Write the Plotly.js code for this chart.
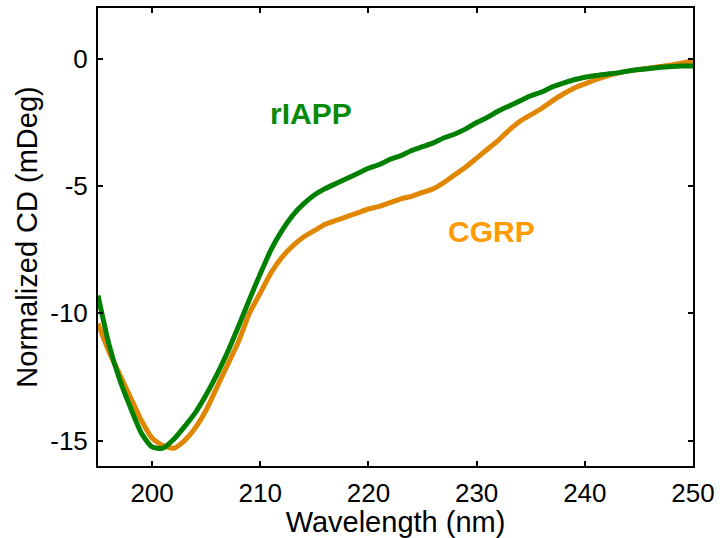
<!DOCTYPE html>
<html>
<head>
<meta charset="utf-8">
<script src="https://cdn.plot.ly/plotly-3.0.1.min.js"></script>
<style>html,body{margin:0;padding:0;background:#fff;}#chart{width:720px;height:538px;}</style>
</head>
<body>
<div id="chart"></div>
<script>
const wavelength = [195,196,197,198,199,200,201,202,203,204,205,206,207,208,209,210,211,212,213,214,215,216,217,218,219,220,221,222,223,224,225,226,227,228,229,230,231,232,233,234,235,236,237,238,239,240,241,242,243,244,245,246,247,248,249,250];
const rIAPP = [-9.3,-11.2,-12.6,-13.7,-14.7,-15.25,-15.3,-14.95,-14.45,-13.9,-13.2,-12.4,-11.5,-10.5,-9.45,-8.45,-7.5,-6.75,-6.15,-5.7,-5.35,-5.1,-4.9,-4.7,-4.5,-4.3,-4.15,-3.95,-3.8,-3.6,-3.45,-3.3,-3.1,-2.95,-2.75,-2.5,-2.3,-2.05,-1.85,-1.65,-1.45,-1.3,-1.1,-0.95,-0.82,-0.72,-0.65,-0.6,-0.55,-0.48,-0.42,-0.38,-0.33,-0.3,-0.28,-0.28];
const CGRP = [-10.4,-11.5,-12.4,-13.3,-14.2,-14.9,-15.2,-15.3,-15.0,-14.5,-13.8,-12.9,-12.0,-11.1,-10.0,-9.2,-8.4,-7.8,-7.35,-7.0,-6.75,-6.5,-6.35,-6.2,-6.05,-5.9,-5.8,-5.65,-5.5,-5.4,-5.25,-5.1,-4.85,-4.55,-4.25,-3.9,-3.55,-3.2,-2.8,-2.45,-2.2,-1.95,-1.65,-1.38,-1.15,-0.98,-0.82,-0.68,-0.56,-0.48,-0.42,-0.36,-0.3,-0.24,-0.16,-0.08];
const xTicks = [200,210,220,230,240,250];
const yTicks = [0,-5,-10,-15];
const labels = [
  {text:'rIAPP', x:214.7, y:-2.15, color:'#078a07'},
  {text:'CGRP', x:231.4, y:-6.8, color:'#ff9a00'}
];

const traces = [
  {x: wavelength, y: CGRP, mode:'lines', line:{color:'#e08600', width:5, shape:'spline', smoothing:0.6}, name:'CGRP'},
  {x: wavelength, y: rIAPP, mode:'lines', line:{color:'#008000', width:5, shape:'spline', smoothing:0.6}, name:'rIAPP'}
];

const FONT = 'Liberation Sans, Arial, sans-serif';
const axisCommon = {
  showgrid:false, zeroline:false, showline:true, linecolor:'#000', linewidth:2,
  mirror:'ticks', ticks:'inside', ticklen:5, tickwidth:2, tickcolor:'#000',
  tickfont:{family:FONT, size:26, color:'#000'}
};

const layout = {
  width:720, height:538,
  margin:{l:98, r:27, t:8, b:72},
  paper_bgcolor:'#fff', plot_bgcolor:'#fff',
  showlegend:false,
  xaxis: Object.assign({}, axisCommon, {
    range:[195,250], tickvals:xTicks, ticktext:xTicks.map(String),
    ticklabelstandoff:3,
    title:{text:'Wavelength (nm)', font:{family:FONT, size:29, color:'#000'}, standoff:0}
  }),
  yaxis: Object.assign({}, axisCommon, {
    range:[-16,2], tickvals:yTicks, ticktext:yTicks.map(String),
    ticklabelstandoff:3,
    title:{text:'Normalized CD (mDeg)', font:{family:FONT, size:29, color:'#000'}, standoff:4}
  }),
  annotations: labels.map(l => ({
    text:'<b>'+l.text+'</b>', x:l.x, y:l.y, xref:'x', yref:'y', showarrow:false,
    xanchor:'center', yanchor:'middle',
    font:{family:FONT, size:30, color:l.color}
  }))
};

Plotly.newPlot('chart', traces, layout, {displayModeBar:false, staticPlot:true});
</script>
</body>
</html>
